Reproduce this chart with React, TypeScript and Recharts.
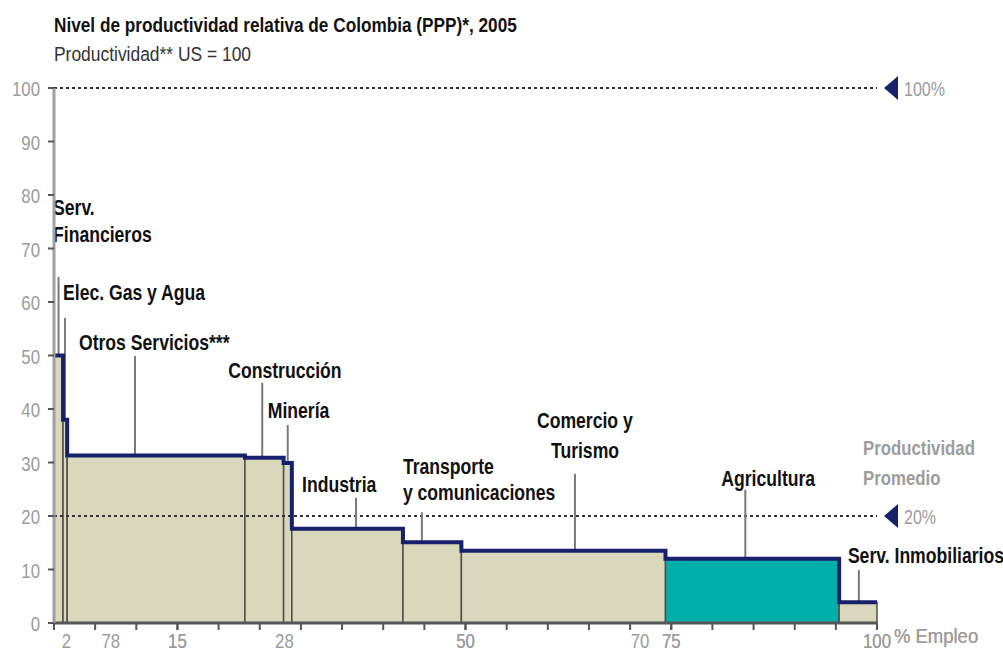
import React from 'react'
import { ComposedChart, Line, XAxis, YAxis, ReferenceArea, ReferenceLine } from 'recharts'

// sectors in the order they are drawn (highest productivity first)
const sectors = [
  'Serv. Financieros',
  'Elec. Gas y Agua',
  'Otros Servicios***',
  'Construcción',
  'Minería',
  'Industria',
  'Transporte y comunicaciones',
  'Comercio y Turismo',
  'Agricultura',
  'Serv. Inmobiliarios',
]
// share of employment (%) -> bar width
const employmentShare = [1.1, 0.5, 21.6, 4.7, 1.0, 13.5, 7.1, 24.8, 21.1, 4.6]
// productivity, US = 100 -> bar height
const productivity = [50, 38, 31.3, 30.9, 29.9, 17.6, 15.1, 13.5, 12.0, 3.9]
const highlighted = ['Agricultura']

const usLevel = 100
const averageLevel = 20

const yTicks = [0, 10, 20, 30, 40, 50, 60, 70, 80, 90, 100]
const xTickMarks = [0, 5, 10, 15, 20, 25, 30, 35, 40, 45, 50, 55, 60, 65, 70, 75, 80, 85, 90, 95, 100]
const xLabelValues = [1.5, 6.9, 15, 28, 50, 71.2, 75, 100]
const xLabelTexts = ['2', '78', '15', '28', '50', '70', '75', '100']

// label text per sector and where its leader line sits
const labelLines = [
  ['Serv.', 'Financieros'],
  ['Elec. Gas y Agua'],
  ['Otros Servicios***'],
  ['Construcción'],
  ['Minería'],
  ['Industria'],
  ['Transporte', 'y comunicaciones'],
  ['Comercio y', 'Turismo'],
  ['Agricultura'],
  ['Serv. Inmobiliarios'],
]
const leaderX = [0.55, 1.34, 9.84, 25.3, 28.4, 36.7, 44.7, 63.3, 84.0, 97.8]
const leaderTop = [64.7, 57.0, 49.9, 44.9, 37.0, 23.4, 20.7, 27.9, 24.9, 9.9]
const labelOffsets = [
  [[-5.5, -62], [-5.5, -35]],
  [[-2, -18]],
  [[-56, -6]],
  [[-34, -5]],
  [[-20, -7]],
  [[-54, -6]],
  [[-19, -38], [-19, -12]],
  [[-38, -46], [-24, -16]],
  [[-24, -4]],
  [[-11, -7]],
]

const FONT = "'Liberation Sans', Arial, Helvetica, sans-serif"
const NAVY = '#17216b'
const BEIGE = '#d9d8bd'
const TEAL = '#00aeaa'
const GREY = '#9c9c9c'

const starts = employmentShare.map((_, i) => employmentShare.slice(0, i).reduce((a, b) => a + b, 0))
const ends = starts.map((s, i) => s + employmentShare[i])

const stepData = [
  ...starts.map((s, i) => ({ x: s, top: productivity[i] })),
  { x: 100, top: productivity[productivity.length - 1] },
]

function Txt({ x, y, children, size = 22, weight = 'bold', fill = '#111', anchor = 'start', sx = 0.8 }: any) {
  return (
    <text
      transform={`translate(${x},${y}) scale(${sx},1)`}
      fontFamily={FONT}
      fontSize={size}
      fontWeight={weight}
      fill={fill}
      textAnchor={anchor}
    >
      {children}
    </text>
  )
}

function XTick({ x, y, payload }: any) {
  const v = payload.value
  const li = xLabelValues.indexOf(v)
  return (
    <g>
      {xTickMarks.includes(v) && <line x1={x} x2={x} y1={y} y2={y + 7} stroke="#555" strokeWidth={2} />}
      {li >= 0 && (
        <Txt x={x} y={y + 25} size={21} weight="normal" fill={GREY} anchor="middle">
          {xLabelTexts[li]}
        </Txt>
      )}
      {v === 100 && (
        <Txt x={x + 17} y={y + 20} size={21} weight="normal" fill={GREY} sx={0.88}>
          % Empleo
        </Txt>
      )}
    </g>
  )
}

function YTick({ x, y, payload }: any) {
  return (
    <g>
      <line x1={x - 6} x2={x} y1={y} y2={y} stroke="#555" strokeWidth={2} />
      <Txt x={x - 14} y={y + 8} size={21} weight="normal" fill={GREY} anchor="end">
        {payload.value}
      </Txt>
    </g>
  )
}

function marker(text: string, extra?: string[]) {
  return ({ viewBox }: any) => {
    const ex = viewBox.x + viewBox.width
    const cy = viewBox.y
    return (
      <g>
        <polygon points={`${ex + 7},${cy} ${ex + 21},${cy - 12} ${ex + 21},${cy + 12}`} fill={NAVY} />
        <Txt x={ex + 27} y={cy + 8} size={20} weight="normal" fill={GREY}>
          {text}
        </Txt>
        {extra &&
          extra.map((t, i) => (
            <Txt key={t} x={ex - 14} y={cy - 61 + i * 30} size={21} fill={GREY}>
              {t}
            </Txt>
          ))}
      </g>
    )
  }
}

function sectorLabel(i: number) {
  return ({ viewBox }: any) => (
    <g>
      {labelLines[i].map((t, j) => (
        <Txt key={t} x={viewBox.x + labelOffsets[i][j][0]} y={viewBox.y + labelOffsets[i][j][1]}>
          {t}
        </Txt>
      ))}
    </g>
  )
}

export default function App() {
  return (
    <div style={{ position: 'absolute', left: 0, top: 0, width: 1003, height: 652, background: '#fff' }}>
      <svg width={1003} height={80} style={{ position: 'absolute', left: 0, top: 0 }}>
        <Txt x={54} y={32} size={21} sx={0.82}>
          Nivel de productividad relativa de Colombia (PPP)*, 2005
        </Txt>
        <Txt x={54} y={61} size={21} weight="normal" fill="#333" sx={0.83}>
          Productividad** US = 100
        </Txt>
      </svg>
      <ComposedChart
        width={1003}
        height={652}
        data={stepData}
        margin={{ top: 88, right: 126, bottom: 0, left: 0 }}
        style={{ position: 'absolute', left: 0, top: 0 }}
      >
        <XAxis
          type="number"
          dataKey="x"
          domain={[0, 100]}
          ticks={[...xTickMarks, ...xLabelValues].sort((a, b) => a - b)}
          interval={0}
          tick={<XTick />}
          tickLine={false}
          tickSize={0}
          tickMargin={0}
          height={29}
          axisLine={{ stroke: '#555', strokeWidth: 3 }}
        />
        <YAxis
          type="number"
          domain={[0, 100]}
          ticks={yTicks}
          interval={0}
          tick={<YTick />}
          tickLine={false}
          tickSize={0}
          tickMargin={0}
          width={54}
          axisLine={{ stroke: '#a0a0a0', strokeWidth: 3 }}
        />
        {sectors.map((s, i) => (
          <ReferenceArea
            key={s}
            x1={starts[i]}
            x2={ends[i]}
            y1={0}
            y2={productivity[i]}
            fill={highlighted.includes(s) ? TEAL : BEIGE}
            fillOpacity={1}
            stroke="#4f4f48"
            strokeWidth={1.5}
          />
        ))}
        <ReferenceLine
          y={usLevel}
          stroke="#333"
          strokeWidth={2}
          strokeDasharray="3 3"
          label={marker('100%')}
        />
        <ReferenceLine
          y={averageLevel}
          stroke="#333"
          strokeWidth={2}
          strokeDasharray="3 3"
          label={marker('20%', ['Productividad', 'Promedio'])}
        />
        {sectors.map((s, i) => (
          <ReferenceLine
            key={'lead' + s}
            segment={[
              { x: leaderX[i], y: productivity[i] },
              { x: leaderX[i], y: leaderTop[i] },
            ]}
            stroke="#7a7a7a"
            strokeWidth={2}
            label={sectorLabel(i)}
          />
        ))}
        <Line
          type="stepAfter"
          dataKey="top"
          stroke={NAVY}
          strokeWidth={4}
          dot={false}
          activeDot={false}
          isAnimationActive={false}
        />
      </ComposedChart>
    </div>
  )
}
